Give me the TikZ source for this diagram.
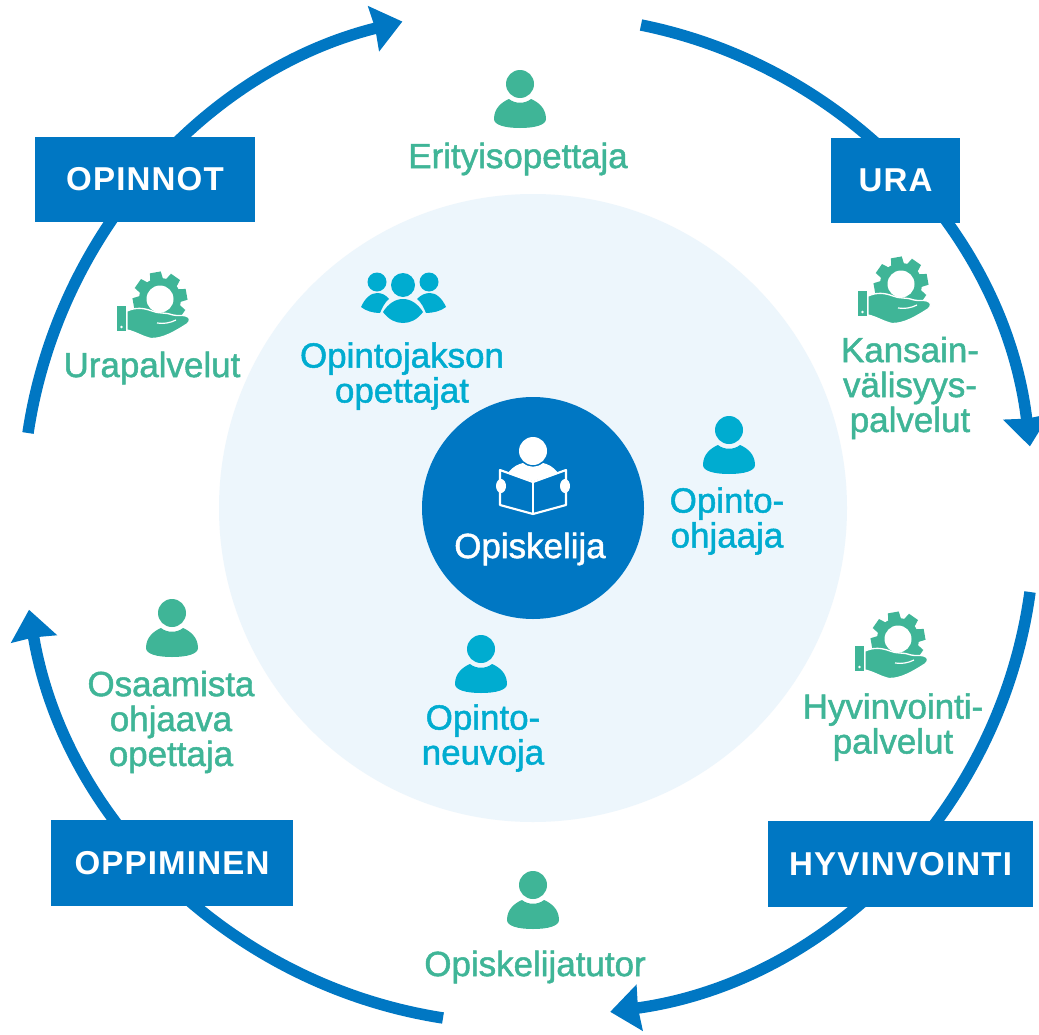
\documentclass[tikz,border=0pt]{standalone}
\usepackage{fontspec}
\setmainfont{Liberation Sans}
\newfontfamily\medf[FakeBold=1.4]{Liberation Sans}
\newfontfamily\boxf[LetterSpace=3.5]{Liberation Sans Bold}
\usetikzlibrary{arrows.meta}
\definecolor{blueM}{HTML}{0077C3}
\definecolor{paleB}{HTML}{EDF6FC}
\definecolor{greenT}{HTML}{3FB597}
\definecolor{cyanT}{HTML}{00ACD0}
\tikzset{
  x=0.75pt,y=-0.75pt,
  flow/.style={draw=blueM,line width=8.6pt,-{Stealth[length=22pt,width=34pt,inset=1pt]}},
  stage/.style={fill=blueM,text=white,inner sep=0pt,font=\boxf\fontsize{24.8}{28}\selectfont},
  lab/.style={align=center,inner sep=0pt,font=\medf\fontsize{26.2}{26.2}\selectfont},
  pics/person/.style={code={
    \fill (0,0) circle[radius=14];
    \fill (-26,35) .. controls (-26,24) and (-18,18) .. (-11,15)
      .. controls (-5,20) and (5,20) .. (11,15)
      .. controls (18,18) and (26,24) .. (26,35)
      .. controls (26,41) and (15,44) .. (0,44)
      .. controls (-15,44) and (-26,41) .. (-26,35) -- cycle;
  }},
  pics/helphand/.style={code={
    \foreach \a in {0,45,...,315}{
      \fill[rotate=\a+10] (-6.5,-19) -- (-5.5,-27) -- (5.5,-27) -- (6.5,-19) -- cycle;
    }
    \fill (0,0) circle[radius=21];
    \fill[white] (0,0) circle[radius=13.5];
    \fill (-43,7) rectangle (-34,32);
    \fill[white] (-38.5,28) circle[radius=1.4];
    \fill[draw=white,line width=1pt] (-33,12)
      .. controls (-24,8) and (-16,9) .. (-8,12)
      .. controls (-2,15) and (6,13) .. (13,16)
      .. controls (17,17) and (23,16) .. (26,17)
      .. controls (31,18) and (30,23) .. (27,25)
      .. controls (16,32) and (3,40) .. (-9,39.5)
      .. controls (-17,38) and (-24,33) .. (-33,31) -- cycle;
    \draw[white,line width=0.9pt] (-3,24) .. controls (4,25) and (10,24) .. (16,21);
  }},
  pics/people/.style={code={
    \fill (0,0) circle[radius=12];
    \fill (-26,-3) circle[radius=9.5];
    \fill (26,-3) circle[radius=9.5];
    \fill (-20,27) .. controls (-15,19) and (-8,14) .. (0,14)
       .. controls (8,14) and (15,19) .. (20,27)
       .. controls (14,35) and (7,38) .. (0,38)
       .. controls (-7,38) and (-14,35) .. (-20,27) -- cycle;
    \fill (-42,22) .. controls (-38,13) and (-32,8) .. (-26,8)
       .. controls (-21,8) and (-17,10) .. (-14,14)
       .. controls (-18,17) and (-21,23) .. (-23,28)
       .. controls (-30,28) and (-37,26) .. (-42,22) -- cycle;
    \fill (43,22) .. controls (39,13) and (33,8) .. (27,8)
       .. controls (22,8) and (18,10) .. (14,14)
       .. controls (18,17) and (21,23) .. (23,28)
       .. controls (30,28) and (38,26) .. (43,22) -- cycle;
  }},
  pics/reader/.style={code={
    \fill[white] (0,0) circle[radius=14];
    \fill[white] (-25,22) .. controls (-20,15) and (-14,13) .. (-10,12)
       .. controls (-4,17) and (4,17) .. (10,12)
       .. controls (14,13) and (20,15) .. (25,22) -- (0,30) -- cycle;
    \draw[white,line width=1.6pt,line join=round,fill=blueM] (-33,19) -- (0,31) -- (33,19) -- (33,54) -- (0,63) -- (-33,54) -- cycle;
    \draw[white,line width=1.6pt] (0,31) -- (0,63);
    \fill[white] (-32,35) ellipse[x radius=5,y radius=7];
    \fill[white] (32,35) ellipse[x radius=5,y radius=7];
  }}
}
\begin{document}
\begin{tikzpicture}
\useasboundingbox (0,0) rectangle (1039,1035);
\fill[white] (0,0) rectangle (1039,1035);
\coordinate (ctr) at (533,508);
\coordinate (a1s) at (641,25);
\coordinate (a2s) at (1030,592);
\coordinate (a3s) at (443,1018);
\coordinate (a4s) at (28,433);
\draw[flow] (a1s) arc[start angle=-78.6,end angle=-6.8,radius=489];
\draw[flow] (a2s) arc[start angle=7.8,end angle=82.2,radius=491];
\draw[flow] (a3s) arc[start angle=98.8,end angle=170.4,radius=497];
\draw[flow] (a4s) arc[start angle=188.5,end angle=256.1,radius=500];
\node[circle,fill=paleB,minimum size=471pt,inner sep=0pt] (inner) at (ctr) {};
\node[circle,fill=blueM,minimum size=166.5pt,inner sep=0pt] (core) at (ctr) {};
\node[stage,minimum width=165pt,minimum height=64pt] (opinnot) at (145,179.5) {\raisebox{-2pt}{OPINNOT}};
\node[stage,minimum width=97pt,minimum height=64pt] (ura) at (895.5,180.5) {\raisebox{-2pt}{URA}};
\node[stage,minimum width=181.5pt,minimum height=64.5pt] (oppiminen) at (172,863) {\raisebox{-1pt}{OPPIMINEN}};
\node[stage,minimum width=199pt,minimum height=64.5pt] (hyvinvointi) at (900.5,864) {\raisebox{-1pt}{HYVINVOINTI}};
\pic[color=greenT] at (520,84) {person};
\pic[color=greenT] at (172,613) {person};
\pic[color=greenT] at (533,885) {person};
\pic[color=cyanT] at (729,430) {person};
\pic[color=cyanT] at (481,649) {person};
\pic[color=greenT] at (160,299) {helphand};
\pic[color=greenT] at (901,284) {helphand};
\pic[color=greenT] at (898,639) {helphand};
\pic[color=cyanT] at (403,285) {people};
\pic at (533,451) {reader};
\node[lab,text=greenT] (t1) at (518,159) {Erityisopettaja};
\node[lab,text=greenT] (t2) at (152,368) {Urapalvelut};
\node[lab,text=greenT] (t3) at (910,388) {Kansain-\\välisyys-\\palvelut};
\node[lab,text=greenT] (t4) at (893,727) {Hyvinvointi-\\palvelut};
\node[lab,text=greenT] (t5) at (535,967) {Opiskelijatutor};
\node[lab,text=greenT] (t6) at (171,722) {Osaamista\\ohjaava\\opettaja};
\node[lab,text=cyanT] (t7) at (402,376) {Opintojakson\\opettajat};
\node[lab,text=cyanT] (t8) at (727,521) {Opinto-\\ohjaaja};
\node[lab,text=cyanT] (t9) at (483,738) {Opinto-\\neuvoja};
\node[lab,text=white] (t10) at (530,549) {Opiskelija};
\end{tikzpicture}
\end{document}
